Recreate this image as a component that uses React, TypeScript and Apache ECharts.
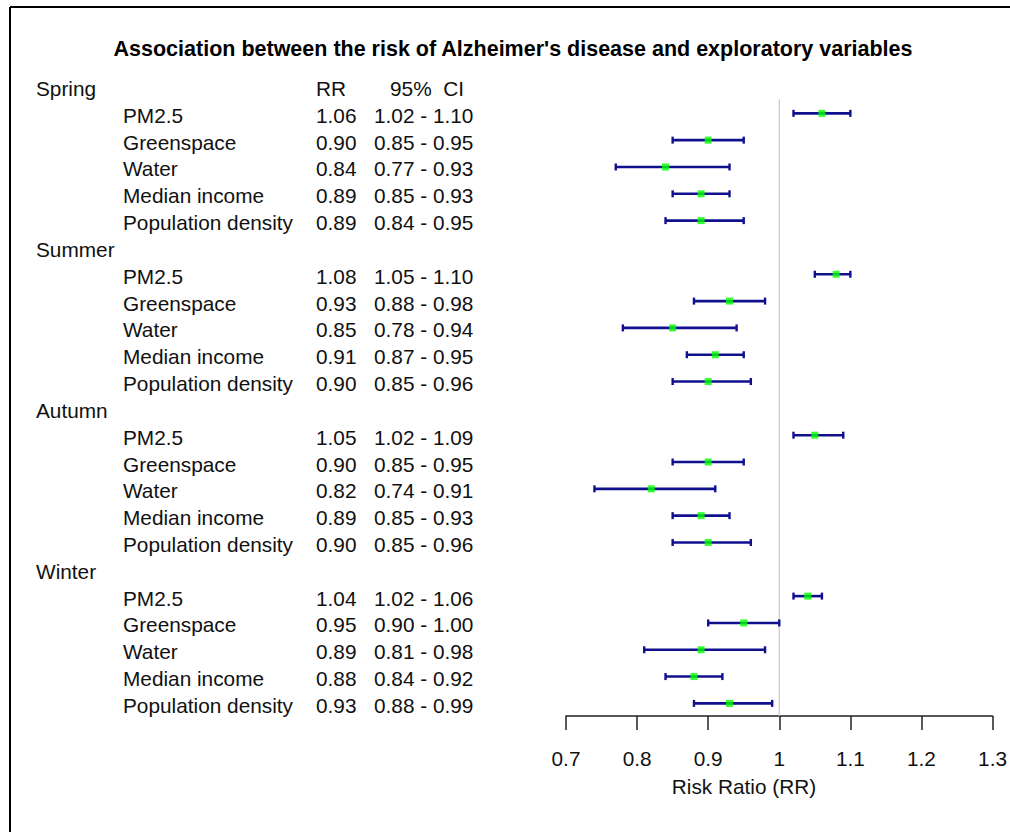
import React, { useEffect, useRef } from "react";
import * as echarts from "echarts";

const titleText = "Association between the risk of Alzheimer's disease and exploratory variables";
const seasons = ["Spring", "Summer", "Autumn", "Winter"];
const variables = ["PM2.5", "Greenspace", "Water", "Median income", "Population density"];

const rrSpring = [1.06, 0.9, 0.84, 0.89, 0.89];
const loSpring = [1.02, 0.85, 0.77, 0.85, 0.84];
const hiSpring = [1.1, 0.95, 0.93, 0.93, 0.95];

const rrSummer = [1.08, 0.93, 0.85, 0.91, 0.9];
const loSummer = [1.05, 0.88, 0.78, 0.87, 0.85];
const hiSummer = [1.1, 0.98, 0.94, 0.95, 0.96];

const rrAutumn = [1.05, 0.9, 0.82, 0.89, 0.9];
const loAutumn = [1.02, 0.85, 0.74, 0.85, 0.85];
const hiAutumn = [1.09, 0.95, 0.91, 0.93, 0.96];

const rrWinter = [1.04, 0.95, 0.89, 0.88, 0.93];
const loWinter = [1.02, 0.9, 0.81, 0.84, 0.88];
const hiWinter = [1.06, 1.0, 0.98, 0.92, 0.99];

const xTicks = [0.7, 0.8, 0.9, 1.0, 1.1, 1.2, 1.3];
const refValue = 1;
const headerRR = "RR";
const headerCI = "95%  CI";
const xAxisTitle = "Risk Ratio (RR)";

const rrAll = [rrSpring, rrSummer, rrAutumn, rrWinter];
const loAll = [loSpring, loSummer, loAutumn, loWinter];
const hiAll = [hiSpring, hiSummer, hiAutumn, hiWinter];

const FONT = "'Liberation Sans', Arial, sans-serif";
const FS = 20.8;

type TRow = { row: number; texts: { x: number; t: string }[] };

export default function App() {
  const ref = useRef<HTMLDivElement>(null);
  useEffect(() => {
    if (!ref.current) return;
    const chart = echarts.init(ref.current, undefined, { renderer: "svg" });

    const points: number[][] = [];
    const bars: number[][] = [];
    const tableRows: TRow[] = [];
    seasons.forEach((s, si) => {
      const base = si * 6;
      const hdr: TRow = { row: base, texts: [{ x: 36, t: s }] };
      if (si === 0) {
        hdr.texts.push({ x: 316, t: headerRR });
        hdr.texts.push({ x: 390, t: headerCI });
      }
      tableRows.push(hdr);
      variables.forEach((v, vi) => {
        const row = base + 1 + vi;
        const rr = rrAll[si][vi];
        const lo = loAll[si][vi];
        const hi = hiAll[si][vi];
        points.push([rr, row]);
        bars.push([lo, hi, row]);
        tableRows.push({
          row,
          texts: [
            { x: 123, t: v },
            { x: 316, t: rr.toFixed(2) },
            { x: 374, t: lo.toFixed(2) + " - " + hi.toFixed(2) },
          ],
        });
      });
    });

    const maxRow = 23.47;

    chart.setOption({
      animation: false,
      backgroundColor: "#ffffff",
      grid: { left: 566, right: 1010 - 993, top: 59.7, bottom: 832 - 716, containLabel: false },
      xAxis: {
        type: "value",
        min: xTicks[0],
        max: xTicks[xTicks.length - 1],
        interval: 0.1,
        splitLine: { show: false },
        axisLine: { show: true, onZero: false, lineStyle: { color: "#222", width: 1.5 } },
        axisTick: { show: true, length: 14, lineStyle: { color: "#222", width: 1.5 } },
        axisLabel: {
          margin: 32,
          fontSize: FS,
          fontFamily: FONT,
          color: "#111",
          formatter: (v: number) => String(Math.round(v * 10) / 10),
        },
      },
      yAxis: {
        type: "value",
        inverse: true,
        min: -1,
        max: maxRow,
        show: false,
      },
      graphic: [
        { type: "line", shape: { x1: 10, y1: 7, x2: 1010, y2: 7 }, style: { stroke: "#000", lineWidth: 2 } },
        { type: "line", shape: { x1: 10, y1: 7, x2: 10, y2: 832 }, style: { stroke: "#000", lineWidth: 2 } },
        {
          type: "text",
          x: 513,
          y: 49,
          style: {
            text: titleText,
            font: `bold 21.5px ${FONT}`,
            fill: "#000",
            align: "center",
            verticalAlign: "middle",
          },
        },
        {
          type: "text",
          x: 744,
          y: 786,
          style: {
            text: xAxisTitle,
            font: `${FS}px ${FONT}`,
            fill: "#111",
            align: "center",
            verticalAlign: "middle",
          },
        },
      ],
      series: [
        {
          type: "line",
          data: [
            [refValue, 0.47],
            [refValue, maxRow],
          ],
          symbol: "none",
          lineStyle: { color: "#c8c8c8", width: 1.2 },
          z: 1,
        },
        {
          type: "custom",
          data: bars,
          z: 2,
          renderItem: (params: any, api: any) => {
            const lo = api.value(0);
            const hi = api.value(1);
            const row = api.value(2);
            const p1 = api.coord([lo, row]);
            const p2 = api.coord([hi, row]);
            const c = "#10108f";
            return {
              type: "group",
              children: [
                { type: "line", shape: { x1: p1[0], y1: p1[1], x2: p2[0], y2: p2[1] }, style: { stroke: c, lineWidth: 2.6 } },
                { type: "line", shape: { x1: p1[0], y1: p1[1] - 3.5, x2: p1[0], y2: p1[1] + 3.5 }, style: { stroke: c, lineWidth: 2.4 } },
                { type: "line", shape: { x1: p2[0], y1: p2[1] - 3.5, x2: p2[0], y2: p2[1] + 3.5 }, style: { stroke: c, lineWidth: 2.4 } },
              ],
            };
          },
        },
        {
          type: "scatter",
          data: points,
          symbol: "rect",
          symbolSize: [7, 7],
          itemStyle: { color: "#00ff00" },
          z: 3,
        },
        {
          type: "custom",
          data: tableRows.map((r) => [xTicks[0], r.row]),
          z: 4,
          renderItem: (params: any, api: any) => {
            const y = api.coord([xTicks[0], api.value(1)])[1] + 2;
            const r = tableRows[params.dataIndex];
            return {
              type: "group",
              children: r.texts.map((tx) => ({
                type: "text",
                x: tx.x,
                y,
                style: {
                  text: tx.t,
                  font: `${FS}px ${FONT}`,
                  fill: "#111",
                  align: "left",
                  verticalAlign: "middle",
                },
              })),
            };
          },
        },
      ],
    });
    return () => chart.dispose();
  }, []);
  return (
    <div
      ref={ref}
      style={{ position: "fixed", left: 0, top: 0, width: 1010, height: 832, background: "#fff" }}
    />
  );
}
